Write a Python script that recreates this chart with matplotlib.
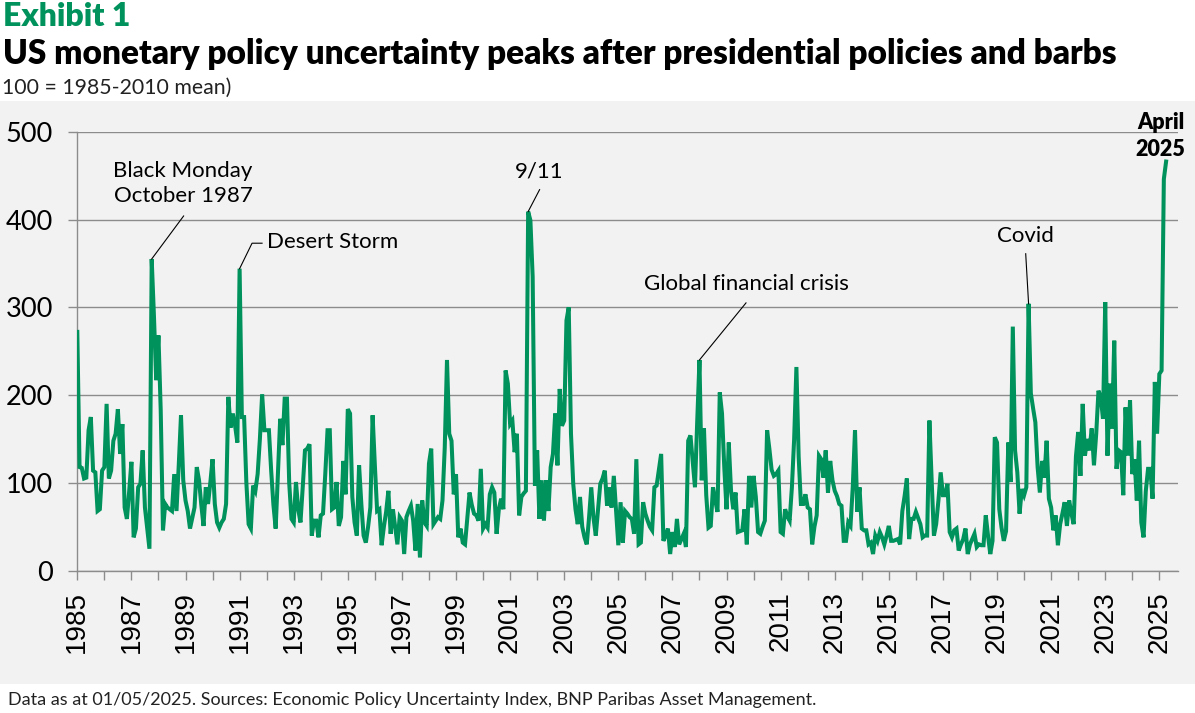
import matplotlib
matplotlib.use("Agg")
import matplotlib.pyplot as plt
import numpy as np
from matplotlib.patches import Rectangle
from matplotlib.ticker import MultipleLocator

GREEN = "#00925c"
GRID = "#8c8c8c"
PANEL = "#f2f2f2"
W, H = 1195, 713

# US monetary policy uncertainty index, monthly, Jan 1985 - Apr 2025
mpu_1985_1994 = [
    272, 118, 117, 105, 106, 160, 175, 114, 112, 68, 70, 114,
    118, 190, 105, 114, 148, 156, 184, 133, 167, 72, 59, 90,
    124, 38, 48, 95, 99, 137, 72, 48, 25, 355, 290, 217,
    268, 183, 46, 76, 72, 70, 68, 110, 68, 120, 177, 103,
    80, 68, 48, 60, 72, 118, 103, 75, 51, 95, 76, 100,
    127, 76, 55, 49, 55, 59, 76, 198, 163, 179, 165, 146,
    344, 175, 175, 100, 53, 48, 97, 91, 110, 150, 201, 160,
    160, 160, 114, 75, 48, 110, 173, 143, 196, 196, 100, 59,
    55, 101, 70, 55, 95, 137, 139, 144, 40, 57, 57, 38,
    63, 65, 110, 160, 160, 70, 72, 101, 51, 61, 125, 87,
]
mpu_1995_2004 = [
    184, 179, 84, 55, 40, 120, 76, 40, 32, 50, 72, 177,
    120, 68, 70, 29, 50, 67, 91, 42, 70, 50, 30, 61,
    57, 19, 61, 68, 74, 57, 23, 76, 15, 80, 55, 51,
    122, 139, 53, 57, 61, 59, 80, 140, 240, 156, 148, 87,
    110, 38, 48, 32, 30, 60, 89, 75, 65, 63, 57, 116,
    48, 53, 49, 87, 95, 89, 42, 70, 82, 70, 228, 213,
    167, 171, 135, 156, 63, 84, 88, 91, 409, 399, 335, 97,
    137, 59, 103, 57, 103, 68, 118, 133, 179, 120, 207, 165,
    171, 285, 300, 156, 99, 70, 53, 84, 50, 38, 30, 60,
    95, 60, 40, 70, 99, 105, 114, 74, 95, 72, 108, 68,
]
mpu_2005_2014 = [
    29, 78, 32, 68, 65, 61, 59, 42, 127, 30, 32, 78,
    65, 57, 50, 46, 95, 97, 115, 133, 34, 40, 48, 19,
    44, 27, 59, 30, 36, 42, 27, 148, 154, 125, 95, 170,
    240, 103, 162, 86, 49, 51, 95, 80, 67, 203, 179, 118,
    70, 146, 91, 70, 89, 44, 45, 46, 70, 30, 108, 72,
    108, 84, 44, 42, 50, 57, 160, 139, 115, 108, 110, 114,
    44, 42, 70, 62, 57, 95, 150, 232, 130, 76, 76, 87,
    72, 70, 30, 50, 63, 131, 127, 106, 137, 89, 125, 103,
    91, 85, 76, 74, 34, 34, 55, 51, 95, 160, 67, 95,
    48, 46, 46, 30, 32, 19, 40, 34, 44, 38, 30, 40,
]
mpu_2015_2025 = [
    51, 34, 34, 35, 36, 30, 68, 85, 105, 36, 59, 59,
    67, 60, 53, 38, 40, 40, 171, 103, 40, 53, 80, 112,
    86, 86, 99, 44, 38, 46, 48, 23, 30, 36, 48, 19,
    30, 36, 42, 27, 30, 29, 29, 63, 40, 19, 34, 152,
    146, 70, 49, 34, 45, 146, 101, 278, 137, 112, 65, 93,
    86, 95, 304, 202, 185, 169, 118, 89, 125, 106, 148, 82,
    72, 46, 63, 29, 53, 65, 78, 51, 80, 65, 53, 130,
    158, 108, 190, 131, 150, 137, 162, 120, 156, 205, 198, 173,
    306, 131, 213, 162, 262, 116, 137, 135, 86, 186, 131, 194,
    110, 127, 80, 148, 55, 38, 91, 116, 116, 82, 215, 156,
    224, 228, 446, 466,
]

# (label, peak month index, label position (year, value), leader bend points)
events = [
    ("Black Monday\nOctober 1987", 33, (1988.91, 441), [(1988.93, 404)]),
    ("Desert Storm", 72, (1992.01, 374), [(1991.83, 373), (1991.46, 373)]),
    ("9/11", 200, (2002.07, 455), [(2002.09, 434)]),
    ("Global financial crisis", 276, (2009.72, 326), [(2009.72, 305)]),
    ("Covid", 422, (2020.04, 381), [(2020.06, 361)]),
]

values = np.array(mpu_1985_1994 + mpu_1995_2004 + mpu_2005_2014 + mpu_2015_2025, dtype=float)
dates = 1985 + np.arange(len(values)) / 12.0


def fx(px):
    return px / W


def fy(py):
    return 1 - py / H


fig = plt.figure(figsize=(W / 100, H / 100), dpi=100)
fig.patches.append(Rectangle((0, fy(684)), 1, fy(101) - fy(684), transform=fig.transFigure,
                             facecolor=PANEL, edgecolor="none", zorder=-10))

fig.text(fx(3), fy(16), "Exhibit 1", color=GREEN, family="Lato", weight="heavy",
         fontsize=23, va="center", ha="left")
fig.text(fx(3), fy(54), "US monetary policy uncertainty peaks after presidential policies and barbs",
         color="black", family="Lato", weight="heavy", fontsize=24, va="center", ha="left")
fig.text(fx(2), fy(88), "100 = 1985-2010 mean)", color="#222222", family="Lato",
         fontsize=15.3, va="center", ha="left")
fig.text(fx(8), fy(700), "Data as at 01/05/2025. Sources: Economic Policy Uncertainty Index, "
         "BNP Paribas Asset Management.", color="#222222", family="Lato",
         fontsize=13, va="center", ha="left")

ax = fig.add_axes([fx(77.3), fy(570.7), fx(1178) - fx(77.3), fy(131.7) - fy(570.7)])
ax.set_facecolor("none")
ax.set_zorder(2)
ax.plot(dates, values, color=GREEN, lw=2.9, solid_joinstyle="miter", zorder=3)

ax.set_ylim(0, 500)
ax.yaxis.set_major_locator(MultipleLocator(100))
ax.xaxis.set_major_locator(MultipleLocator(2, offset=1))
ax.xaxis.set_minor_locator(MultipleLocator(1))
ax.set_xlim(1985, 2025.69)
ax.grid(axis="y", color=GRID, lw=1)
for side in ("top", "right"):
    ax.spines[side].set_visible(False)
for side in ("left", "bottom"):
    ax.spines[side].set_color(GRID)
    ax.spines[side].set_linewidth(1)

ax.tick_params(axis="y", length=6.5, width=1, color=GRID, pad=11, labelsize=19.5)
ax.tick_params(axis="x", which="both", length=6.5, width=1, color=GRID, pad=8)
for lab in ax.get_yticklabels():
    lab.set_family("Lato")
xt = [t for t in ax.get_xticks() if 1985 <= t <= 2025.69]
ax.set_xticks(xt)
ax.set_xticklabels([str(int(t)) for t in xt], rotation=90,
                   family="Liberation Sans", fontsize=20)
ax.set_xlim(1985, 2025.69)

for label, idx, (tx, ty), bends in events:
    ax.text(tx, ty, label, ha="left" if label == "Desert Storm" else "center", va="center",
            family="Lato", fontsize=16, linespacing=1.3, zorder=4)
    pts = bends + [(dates[idx], values[idx])]
    ax.plot([p[0] for p in pts], [p[1] for p in pts], color="black", lw=0.8, zorder=4)

ax.text(dates[-1] - 0.2, 495, "April\n2025", ha="center", va="center", family="Lato",
        weight="heavy", fontsize=15.5, linespacing=1.4, clip_on=False, zorder=4)

fig.savefig("out.png", dpi=100)
